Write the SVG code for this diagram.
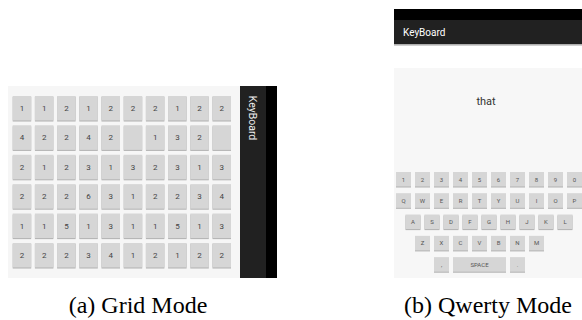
<svg xmlns="http://www.w3.org/2000/svg" width="582" height="320" viewBox="0 0 582 320">
<defs>
<filter id="ds" x="-10%" y="-10%" width="120%" height="130%"><feDropShadow dx="0" dy="0.8" stdDeviation="0.4" flood-color="#8a8a8a" flood-opacity="0.8"/></filter>
</defs>
<style>
.btn{fill:#d6d6d6;filter:url(#ds)}
.bt{font-family:Roboto,"Liberation Sans",sans-serif;font-size:8px;fill:#444;text-anchor:middle}
.kt{font-family:Roboto,"Liberation Sans",sans-serif;font-size:6px;fill:#555;text-anchor:middle}
.cap{font-family:"Liberation Serif",serif;font-size:24px;fill:#000;text-anchor:middle}
</style>
<rect width="582" height="320" fill="#fff"/>
<g id="grid-mode">
<rect x="8" y="86" width="232" height="192" fill="#f6f6f6"/>
<rect x="240" y="86" width="26" height="192" fill="#212121"/>
<rect x="266" y="86" width="11" height="192" fill="#000"/>
<text x="252" y="118" transform="rotate(90 252 118)" font-family="Roboto,'Liberation Sans',sans-serif" font-size="10.5" fill="#eee" text-anchor="middle" dominant-baseline="central">KeyBoard</text>
<g id="grid">
<g id="grid-row1" transform="translate(0,96)">
<rect class="btn" x="12.7" width="18.5" height="24.5"/><rect class="btn" x="34.9" width="18.5" height="24.5"/><rect class="btn" x="57.1" width="18.5" height="24.5"/><rect class="btn" x="79.3" width="18.5" height="24.5"/><rect class="btn" x="101.5" width="18.5" height="24.5"/><rect class="btn" x="123.7" width="18.5" height="24.5"/><rect class="btn" x="145.9" width="18.5" height="24.5"/><rect class="btn" x="168.1" width="18.5" height="24.5"/><rect class="btn" x="190.3" width="18.5" height="24.5"/><rect class="btn" x="212.5" width="18.5" height="24.5"/>
<text class="bt" x="22" y="15">1</text><text class="bt" x="44.2" y="15">1</text><text class="bt" x="66.4" y="15">2</text><text class="bt" x="88.6" y="15">1</text><text class="bt" x="110.8" y="15">2</text><text class="bt" x="133" y="15">2</text><text class="bt" x="155.2" y="15">2</text><text class="bt" x="177.4" y="15">1</text><text class="bt" x="199.6" y="15">2</text><text class="bt" x="221.8" y="15">2</text>
</g>
<g id="grid-row2" transform="translate(0,125.4)">
<rect class="btn" x="12.7" width="18.5" height="24.5"/><rect class="btn" x="34.9" width="18.5" height="24.5"/><rect class="btn" x="57.1" width="18.5" height="24.5"/><rect class="btn" x="79.3" width="18.5" height="24.5"/><rect class="btn" x="101.5" width="18.5" height="24.5"/><rect class="btn" x="123.7" width="18.5" height="24.5"/><rect class="btn" x="145.9" width="18.5" height="24.5"/><rect class="btn" x="168.1" width="18.5" height="24.5"/><rect class="btn" x="190.3" width="18.5" height="24.5"/><rect class="btn" x="212.5" width="18.5" height="24.5"/>
<text class="bt" x="22" y="15">4</text><text class="bt" x="44.2" y="15">2</text><text class="bt" x="66.4" y="15">2</text><text class="bt" x="88.6" y="15">4</text><text class="bt" x="110.8" y="15">2</text><text class="bt" x="155.2" y="15">1</text><text class="bt" x="177.4" y="15">3</text><text class="bt" x="199.6" y="15">2</text>
</g>
<g id="grid-row3" transform="translate(0,154.8)">
<rect class="btn" x="12.7" width="18.5" height="24.5"/><rect class="btn" x="34.9" width="18.5" height="24.5"/><rect class="btn" x="57.1" width="18.5" height="24.5"/><rect class="btn" x="79.3" width="18.5" height="24.5"/><rect class="btn" x="101.5" width="18.5" height="24.5"/><rect class="btn" x="123.7" width="18.5" height="24.5"/><rect class="btn" x="145.9" width="18.5" height="24.5"/><rect class="btn" x="168.1" width="18.5" height="24.5"/><rect class="btn" x="190.3" width="18.5" height="24.5"/><rect class="btn" x="212.5" width="18.5" height="24.5"/>
<text class="bt" x="22" y="15">2</text><text class="bt" x="44.2" y="15">1</text><text class="bt" x="66.4" y="15">2</text><text class="bt" x="88.6" y="15">3</text><text class="bt" x="110.8" y="15">1</text><text class="bt" x="133" y="15">3</text><text class="bt" x="155.2" y="15">2</text><text class="bt" x="177.4" y="15">3</text><text class="bt" x="199.6" y="15">1</text><text class="bt" x="221.8" y="15">3</text>
</g>
<g id="grid-row4" transform="translate(0,184.2)">
<rect class="btn" x="12.7" width="18.5" height="24.5"/><rect class="btn" x="34.9" width="18.5" height="24.5"/><rect class="btn" x="57.1" width="18.5" height="24.5"/><rect class="btn" x="79.3" width="18.5" height="24.5"/><rect class="btn" x="101.5" width="18.5" height="24.5"/><rect class="btn" x="123.7" width="18.5" height="24.5"/><rect class="btn" x="145.9" width="18.5" height="24.5"/><rect class="btn" x="168.1" width="18.5" height="24.5"/><rect class="btn" x="190.3" width="18.5" height="24.5"/><rect class="btn" x="212.5" width="18.5" height="24.5"/>
<text class="bt" x="22" y="15">2</text><text class="bt" x="44.2" y="15">2</text><text class="bt" x="66.4" y="15">2</text><text class="bt" x="88.6" y="15">6</text><text class="bt" x="110.8" y="15">3</text><text class="bt" x="133" y="15">1</text><text class="bt" x="155.2" y="15">2</text><text class="bt" x="177.4" y="15">2</text><text class="bt" x="199.6" y="15">3</text><text class="bt" x="221.8" y="15">4</text>
</g>
<g id="grid-row5" transform="translate(0,213.6)">
<rect class="btn" x="12.7" width="18.5" height="24.5"/><rect class="btn" x="34.9" width="18.5" height="24.5"/><rect class="btn" x="57.1" width="18.5" height="24.5"/><rect class="btn" x="79.3" width="18.5" height="24.5"/><rect class="btn" x="101.5" width="18.5" height="24.5"/><rect class="btn" x="123.7" width="18.5" height="24.5"/><rect class="btn" x="145.9" width="18.5" height="24.5"/><rect class="btn" x="168.1" width="18.5" height="24.5"/><rect class="btn" x="190.3" width="18.5" height="24.5"/><rect class="btn" x="212.5" width="18.5" height="24.5"/>
<text class="bt" x="22" y="15">1</text><text class="bt" x="44.2" y="15">1</text><text class="bt" x="66.4" y="15">5</text><text class="bt" x="88.6" y="15">1</text><text class="bt" x="110.8" y="15">3</text><text class="bt" x="133" y="15">1</text><text class="bt" x="155.2" y="15">1</text><text class="bt" x="177.4" y="15">5</text><text class="bt" x="199.6" y="15">1</text><text class="bt" x="221.8" y="15">3</text>
</g>
<g id="grid-row6" transform="translate(0,243)">
<rect class="btn" x="12.7" width="18.5" height="24.5"/><rect class="btn" x="34.9" width="18.5" height="24.5"/><rect class="btn" x="57.1" width="18.5" height="24.5"/><rect class="btn" x="79.3" width="18.5" height="24.5"/><rect class="btn" x="101.5" width="18.5" height="24.5"/><rect class="btn" x="123.7" width="18.5" height="24.5"/><rect class="btn" x="145.9" width="18.5" height="24.5"/><rect class="btn" x="168.1" width="18.5" height="24.5"/><rect class="btn" x="190.3" width="18.5" height="24.5"/><rect class="btn" x="212.5" width="18.5" height="24.5"/>
<text class="bt" x="22" y="15">2</text><text class="bt" x="44.2" y="15">2</text><text class="bt" x="66.4" y="15">2</text><text class="bt" x="88.6" y="15">3</text><text class="bt" x="110.8" y="15">4</text><text class="bt" x="133" y="15">1</text><text class="bt" x="155.2" y="15">2</text><text class="bt" x="177.4" y="15">1</text><text class="bt" x="199.6" y="15">2</text><text class="bt" x="221.8" y="15">2</text>
</g>
</g>
</g>
<g id="qwerty-mode">
<rect x="394" y="9" width="188" height="11" fill="#000"/>
<rect x="394" y="20" width="188" height="24.5" fill="#212121"/>
<rect x="394" y="44.5" width="188" height="1.5" fill="#d0d0d0"/>
<text x="403" y="36" font-family="Roboto,'Liberation Sans',sans-serif" font-size="10" fill="#fff">KeyBoard</text>
<rect x="394" y="68" width="188" height="210" fill="#f7f7f7"/>
<text x="486" y="105" font-family="Roboto,'Liberation Sans',sans-serif" font-size="11" fill="#333" text-anchor="middle">that</text>
<g id="keys">
<g id="key-row1" transform="translate(0,172)">
<rect class="btn" x="396" width="15" height="14.5"/><rect class="btn" x="415" width="15" height="14.5"/><rect class="btn" x="434" width="15" height="14.5"/><rect class="btn" x="453" width="15" height="14.5"/><rect class="btn" x="472" width="15" height="14.5"/><rect class="btn" x="491" width="15" height="14.5"/><rect class="btn" x="510" width="15" height="14.5"/><rect class="btn" x="529" width="15" height="14.5"/><rect class="btn" x="548" width="15" height="14.5"/><rect class="btn" x="567" width="15" height="14.5"/>
<text class="kt" x="403.5" y="9.5">1</text><text class="kt" x="422.5" y="9.5">2</text><text class="kt" x="441.5" y="9.5">3</text><text class="kt" x="460.5" y="9.5">4</text><text class="kt" x="479.5" y="9.5">5</text><text class="kt" x="498.5" y="9.5">6</text><text class="kt" x="517.5" y="9.5">7</text><text class="kt" x="536.5" y="9.5">8</text><text class="kt" x="555.5" y="9.5">9</text><text class="kt" x="574.5" y="9.5">0</text>
</g>
<g id="key-row2" transform="translate(0,193.3)">
<rect class="btn" x="396" width="15" height="14.5"/><rect class="btn" x="415" width="15" height="14.5"/><rect class="btn" x="434" width="15" height="14.5"/><rect class="btn" x="453" width="15" height="14.5"/><rect class="btn" x="472" width="15" height="14.5"/><rect class="btn" x="491" width="15" height="14.5"/><rect class="btn" x="510" width="15" height="14.5"/><rect class="btn" x="529" width="15" height="14.5"/><rect class="btn" x="548" width="15" height="14.5"/><rect class="btn" x="567" width="15" height="14.5"/>
<text class="kt" x="403.5" y="9.5">Q</text><text class="kt" x="422.5" y="9.5">W</text><text class="kt" x="441.5" y="9.5">E</text><text class="kt" x="460.5" y="9.5">R</text><text class="kt" x="479.5" y="9.5">T</text><text class="kt" x="498.5" y="9.5">Y</text><text class="kt" x="517.5" y="9.5">U</text><text class="kt" x="536.5" y="9.5">I</text><text class="kt" x="555.5" y="9.5">O</text><text class="kt" x="574.5" y="9.5">P</text>
</g>
<g id="key-row3" transform="translate(0,214.6)">
<rect class="btn" x="405.5" width="15" height="14.5"/><rect class="btn" x="424.5" width="15" height="14.5"/><rect class="btn" x="443.5" width="15" height="14.5"/><rect class="btn" x="462.5" width="15" height="14.5"/><rect class="btn" x="481.5" width="15" height="14.5"/><rect class="btn" x="500.5" width="15" height="14.5"/><rect class="btn" x="519.5" width="15" height="14.5"/><rect class="btn" x="538.5" width="15" height="14.5"/><rect class="btn" x="557.5" width="15" height="14.5"/>
<text class="kt" x="413" y="9.5">A</text><text class="kt" x="432" y="9.5">S</text><text class="kt" x="451" y="9.5">D</text><text class="kt" x="470" y="9.5">F</text><text class="kt" x="489" y="9.5">G</text><text class="kt" x="508" y="9.5">H</text><text class="kt" x="527" y="9.5">J</text><text class="kt" x="546" y="9.5">K</text><text class="kt" x="565" y="9.5">L</text>
</g>
<g id="key-row4" transform="translate(0,235.9)">
<rect class="btn" x="415" width="15" height="14.5"/><rect class="btn" x="434" width="15" height="14.5"/><rect class="btn" x="453" width="15" height="14.5"/><rect class="btn" x="472" width="15" height="14.5"/><rect class="btn" x="491" width="15" height="14.5"/><rect class="btn" x="510" width="15" height="14.5"/><rect class="btn" x="529" width="15" height="14.5"/>
<text class="kt" x="422.5" y="9.5">Z</text><text class="kt" x="441.5" y="9.5">X</text><text class="kt" x="460.5" y="9.5">C</text><text class="kt" x="479.5" y="9.5">V</text><text class="kt" x="498.5" y="9.5">B</text><text class="kt" x="517.5" y="9.5">N</text><text class="kt" x="536.5" y="9.5">M</text>
</g>
<g id="key-row5" transform="translate(0,257.2)">
<rect class="btn" x="434" width="15" height="14.5"/><rect class="btn" x="453" width="53" height="14.5"/><rect class="btn" x="510" width="15" height="14.5"/>
<text class="kt" x="441.5" y="9.5">,</text><text class="kt" x="479.5" y="9.5">SPACE</text><text class="kt" x="517.5" y="9.5">.</text>
</g>
</g>
</g>
<text class="cap" x="138" y="313">(a) Grid Mode</text>
<text class="cap" x="488" y="313">(b) Qwerty Mode</text>
</svg>
